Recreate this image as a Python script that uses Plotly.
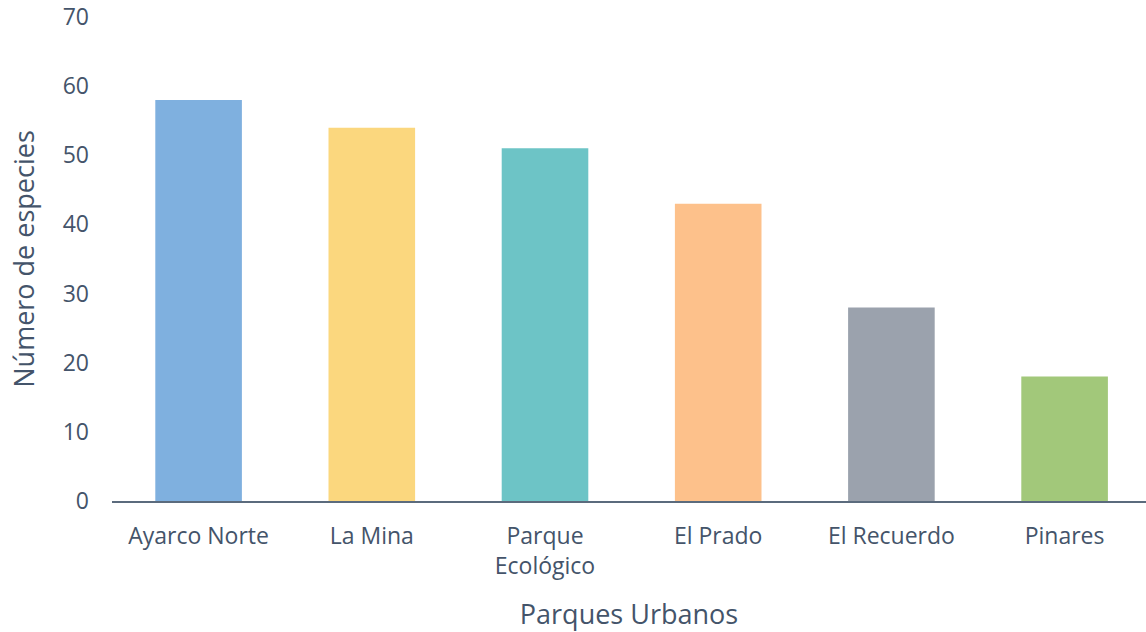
import plotly.graph_objects as go

parques = ["Ayarco Norte", "La Mina", "Parque<br>Ecológico", "El Prado", "El Recuerdo", "Pinares"]
especies = [58, 54, 51, 43, 28, 18]
colores = ["#7FB0DF", "#FBD77E", "#6DC4C6", "#FDC18B", "#9BA2AD", "#A2C87A"]
y_ticks = [0, 10, 20, 30, 40, 50, 60, 70]

font_color = "#44546A"
fig = go.Figure(go.Bar(x=parques, y=especies, marker=dict(color=colores, line=dict(width=0))))
fig.update_layout(
    width=1146, height=632,
    margin=dict(l=112, r=0, t=17, b=131),
    paper_bgcolor="white", plot_bgcolor="white",
    bargap=0.5, showlegend=False,
    font=dict(family="Open Sans", color=font_color, size=23),
)
fig.update_xaxes(
    range=[-0.5, 5.47], showline=True, linecolor="#5B6B7D", linewidth=1.5,
    ticks="outside", ticklen=14, tickcolor="rgba(0,0,0,0)", automargin=False,
    tickfont=dict(size=23, color=font_color),
    title=dict(text="Parques Urbanos", font=dict(size=27, color=font_color), standoff=30),
    showgrid=False,
)
fig.update_yaxes(
    range=[0, 70], tickvals=y_ticks, showgrid=False, showline=False, zeroline=False,
    automargin=False, ticklabeloverflow="allow",
    tickfont=dict(size=23, color=font_color), ticklabelstandoff=22,
    title=dict(text="Número de especies", font=dict(size=27, color=font_color), standoff=20),
)
fig.write_html(
    "out.html",
    config={"displayModeBar": False},
    post_script="document.body.style.margin='0';document.body.style.overflow='hidden';",
)
